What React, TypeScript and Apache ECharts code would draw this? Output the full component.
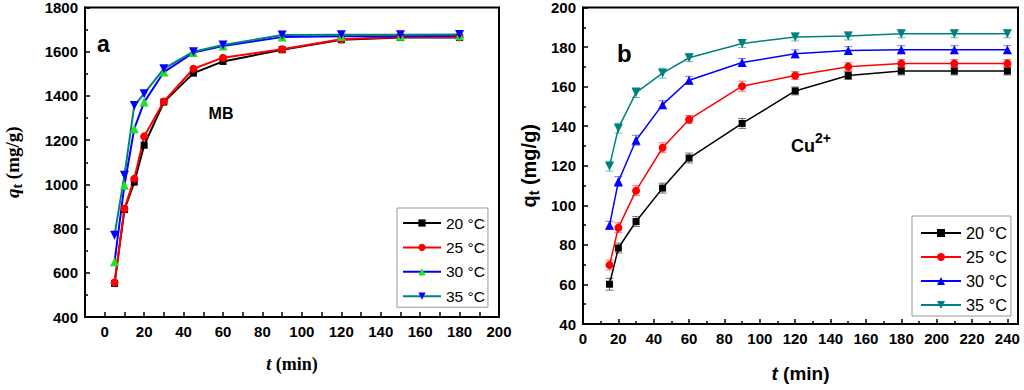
import React, { useEffect, useRef } from "react";
import * as echarts from "echarts";

// Panel a (MB)
const timeA = [5, 10, 15, 20, 30, 45, 60, 90, 120, 150, 180];
const mb20 = [552, 886, 1010, 1177, 1372, 1503, 1556, 1609, 1654, 1664, 1664];
const mb25 = [556, 890, 1026, 1217, 1375, 1523, 1573, 1611, 1656, 1666, 1666];
const mb30 = [650, 996, 1252, 1372, 1508, 1596, 1626, 1666, 1670, 1670, 1672];
const mb35 = [770, 1041, 1357, 1410, 1523, 1600, 1630, 1676, 1677, 1677, 1678];

// Panel b (Cu2+)
const timeB = [15, 20, 30, 45, 60, 90, 120, 150, 180, 210, 240];
const cu20 = [60.1, 78.4, 91.8, 108.7, 123.9, 141.4, 157.8, 165.6, 167.9, 167.9, 167.9];
const cu25 = [69.8, 88.7, 107.4, 129.1, 143.4, 160.2, 165.6, 170.1, 171.7, 171.7, 171.7];
const cu30 = [89.9, 112, 132.9, 150.9, 163.2, 172.2, 176.6, 178.2, 178.7, 178.7, 178.7];
const cu35 = [119.8, 139, 157, 166.8, 174.6, 181.8, 185.1, 185.6, 186.7, 186.7, 186.7];
const err20 = [3, 2.5, 2.5, 2.5, 2.5, 2.5, 2, 2, 2, 2, 2];
const err25 = [2.5, 2.5, 2.5, 2.5, 2, 2.5, 2, 2, 2, 2, 2];
const err30 = [2, 2.5, 2.5, 2, 2, 2, 2, 2, 2, 2, 2];
const err35 = [2.5, 2.5, 2.5, 2.5, 2, 2, 2, 2, 2, 2, 2];

const legendLabels = ["20 °C", "25 °C", "30 °C", "35 °C"];
const yTicksA = { min: 400, max: 1800, interval: 200 };
const xTicksA = { min: -10, max: 200, interval: 10 };
const yTicksB = { min: 40, max: 200, interval: 20 };
const xTicksB = { min: 0, max: 246, interval: 20 };

const sans = "'Liberation Sans', Arial, sans-serif";
const serif = "'Liberation Serif', 'Times New Roman', serif";

function pairs(xs: number[], ys: number[]) {
  return xs.map((x, i) => [x, ys[i]]);
}

export default function App() {
  const ref = useRef<HTMLDivElement>(null);
  useEffect(() => {
    if (!ref.current) return;
    const chart = echarts.init(ref.current, undefined, { renderer: "svg" });

    const axisCommon = (fmt: (v: number) => string) => ({
      type: "value" as const,
      axisLine: { show: true, onZero: false, lineStyle: { color: "#000", width: 2 } },
      axisTick: { show: true, inside: true, length: 5, lineStyle: { color: "#000", width: 1.5 } },
      splitLine: { show: false },
      axisLabel: {
        color: "#000",
        fontFamily: sans,
        fontWeight: "bold" as const,
        fontSize: 15,
        margin: 7,
        formatter: fmt,
      },
    });
    const every20 = (v: number) => (v % 20 === 0 ? String(v) : "");
    const plain = (v: number) => String(v);

    const lineSeries = (
      name: string,
      xAxisIndex: number,
      data: number[][],
      lineColor: string,
      markColor: string,
      symbol: string,
      size: number,
      rotate = 0,
      width = 2
    ) => ({
      type: "line" as const,
      name,
      xAxisIndex,
      yAxisIndex: xAxisIndex,
      data,
      symbol,
      symbolSize: size,
      symbolRotate: rotate,
      showSymbol: true,
      lineStyle: { color: lineColor, width },
      itemStyle: { color: markColor, borderWidth: 0 },
      z: 3,
    });

    const errSeries = (xs: number[], ys: number[], es: number[], color: string) => ({
      type: "custom" as const,
      xAxisIndex: 1,
      yAxisIndex: 1,
      z: 2,
      silent: true,
      data: xs.map((x, i) => [x, ys[i] - es[i], ys[i] + es[i]]),
      renderItem: (params: any, api: any) => {
        const lo = api.coord([api.value(0), api.value(1)]);
        const hi = api.coord([api.value(0), api.value(2)]);
        const style = { stroke: color, lineWidth: 1, opacity: 0.55 };
        return {
          type: "group",
          children: [
            { type: "line", shape: { x1: lo[0], y1: lo[1], x2: hi[0], y2: hi[1] }, style },
            { type: "line", shape: { x1: lo[0] - 4, y1: lo[1], x2: lo[0] + 4, y2: lo[1] }, style },
            { type: "line", shape: { x1: hi[0] - 4, y1: hi[1], x2: hi[0] + 4, y2: hi[1] }, style },
          ],
        };
      },
    });

    const namesA = legendLabels.map((l) => "MB " + l);
    const namesB = legendLabels.map((l) => "Cu " + l);
    const strip = (n: string) => n.replace(/^(MB|Cu) /, "");

    const richName = (family: string, size: number, italicMain: boolean, subSize: number) => ({
      color: "#000",
      fontFamily: family,
      fontWeight: "bold",
      fontSize: size,
      lineHeight: size + 4,
      rich: {
        i: { fontFamily: family, fontWeight: "bold", fontStyle: italicMain ? "italic" : "normal", fontSize: size, lineHeight: size + 4, color: "#000" },
        n: { fontFamily: family, fontWeight: "bold", fontSize: size, lineHeight: size + 4, color: "#000" },
        s: { fontFamily: family, fontWeight: "bold", fontSize: subSize, lineHeight: subSize, verticalAlign: "bottom", color: "#000" },
      },
    });

    chart.setOption({
      animation: false,
      grid: [
        { left: 82, top: 7, width: 417, height: 310, show: true, borderColor: "#000", borderWidth: 2 },
        { left: 583, top: 7, width: 435, height: 326, show: true, borderColor: "#000", borderWidth: 2 },
      ],
      xAxis: [
        {
          ...axisCommon(every20),
          gridIndex: 0,
          ...xTicksA,
          name: "{i|t}{n| (min)}",
          nameLocation: "middle",
          nameGap: 36,
          nameTextStyle: richName(serif, 18, true, 12),
        },
        {
          ...axisCommon(every20),
          gridIndex: 1,
          ...xTicksB,
          minorTick: { show: true, splitNumber: 2, length: 3, lineStyle: { color: "#000", width: 1.5 } },
          name: "{i|t}{n| (min)}",
          nameLocation: "middle",
          nameGap: 38,
          nameTextStyle: richName(sans, 19, true, 12),
        },
      ],
      yAxis: [
        {
          ...axisCommon(plain),
          gridIndex: 0,
          ...yTicksA,
          minorTick: { show: true, splitNumber: 2, length: 3, lineStyle: { color: "#000", width: 1.5 } },
          name: "{i|q}{s|t}{n| (mg/g)}",
          nameLocation: "middle",
          nameGap: 61,
          nameRotate: 90,
          nameTextStyle: richName(serif, 19, true, 14),
        },
        {
          ...axisCommon(plain),
          gridIndex: 1,
          ...yTicksB,
          minorTick: { show: true, splitNumber: 2, length: 3, lineStyle: { color: "#000", width: 1.5 } },
          name: "{i|q}{s|t}{n| (mg/g)}",
          nameLocation: "middle",
          nameGap: 42,
          nameRotate: 90,
          nameTextStyle: richName(sans, 20, false, 14),
        },
      ],
      legend: [
        {
          data: namesA,
          formatter: strip,
          orient: "vertical",
          left: 397,
          top: 208,
          padding: [7, 3, 3, 5],
          itemWidth: 38,
          itemHeight: 9,
          itemGap: 8.4,
          borderColor: "#999",
          borderWidth: 1,
          backgroundColor: "#fff",
          selectedMode: false,
          textStyle: { fontFamily: sans, fontSize: 15.5, lineHeight: 14, color: "#000" },
        },
        {
          data: namesB,
          formatter: strip,
          orient: "vertical",
          left: 912,
          top: 216,
          padding: [9, 4, 3, 8],
          itemWidth: 40,
          itemHeight: 10,
          itemGap: 8,
          borderColor: "#999",
          borderWidth: 1,
          backgroundColor: "#fff",
          selectedMode: false,
          textStyle: { fontFamily: sans, fontSize: 16.3, lineHeight: 16, color: "#000" },
        },
      ],
      graphic: [
        { type: "text", x: 97, y: 44, style: { text: "a", font: "bold 23px " + sans, fill: "#000", textVerticalAlign: "middle" } },
        { type: "text", x: 221, y: 113, style: { text: "MB", font: "bold 16px " + sans, fill: "#000", textAlign: "center", textVerticalAlign: "middle" } },
        { type: "text", x: 617, y: 53, style: { text: "b", font: "bold 24px " + sans, fill: "#000", textVerticalAlign: "middle" } },
        {
          type: "text",
          x: 791,
          y: 146,
          style: {
            text: "{m|Cu}{p|2+}",
            textVerticalAlign: "middle",
            rich: {
              m: { fontFamily: sans, fontWeight: "bold", fontSize: 18, lineHeight: 30, fill: "#000", color: "#000" },
              p: { fontFamily: sans, fontWeight: "bold", fontSize: 14, lineHeight: 14, verticalAlign: "top", fill: "#000", color: "#000" },
            },
          },
        },
      ],
      series: [
        lineSeries(namesA[0], 0, pairs(timeA, mb20), "#000000", "#000000", "rect", 7),
        lineSeries(namesA[1], 0, pairs(timeA, mb25), "#ff0000", "#ff0000", "circle", 8),
        lineSeries(namesA[2], 0, pairs(timeA, mb30), "#0000ff", "#22e022", "triangle", 9),
        lineSeries(namesA[3], 0, pairs(timeA, mb35), "#008080", "#0000ff", "triangle", 9, 180),
        errSeries(timeB, cu20, err20, "#000000"),
        errSeries(timeB, cu25, err25, "#ff0000"),
        errSeries(timeB, cu30, err30, "#0000ff"),
        errSeries(timeB, cu35, err35, "#008080"),
        lineSeries(namesB[0], 1, pairs(timeB, cu20), "#000000", "#000000", "rect", 7, 0, 1.5),
        lineSeries(namesB[1], 1, pairs(timeB, cu25), "#ff0000", "#ff0000", "circle", 8, 0, 1.5),
        lineSeries(namesB[2], 1, pairs(timeB, cu30), "#0000ff", "#0000ff", "triangle", 9, 0, 1.5),
        lineSeries(namesB[3], 1, pairs(timeB, cu35), "#008080", "#008080", "triangle", 9, 180, 1.5),
      ],
    });
    return () => chart.dispose();
  }, []);
  return (
    <div
      ref={ref}
      style={{ position: "fixed", left: 0, top: 0, width: 1024, height: 390, background: "#fff" }}
    />
  );
}
